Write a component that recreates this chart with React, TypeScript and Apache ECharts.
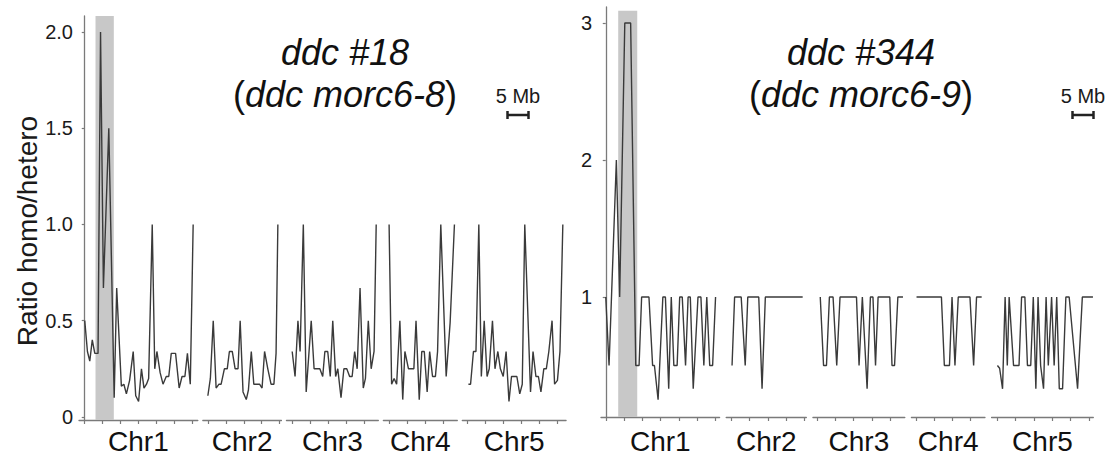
import React, { useEffect, useRef } from 'react';
import * as echarts from 'echarts';

const FONT = "'Liberation Sans', Arial, Helvetica, sans-serif";

const CHROMOSOMES = ['Chr1', 'Chr2', 'Chr3', 'Chr4', 'Chr5'];
const X_TICKS_MB = [0, 5, 10, 15, 20, 25, 30];

// ---- ddc #18 (ddc morc6-8): [position Mb, ratio homo/hetero]
const L_CHR1 = [[0, 0.5], [0.75, 0.34], [1.4, 0.29], [2.1, 0.4], [2.8, 0.33], [3.7, 0.33], [4.4, 2.0], [5.2, 0.67], [6.7, 1.5], [8.2, 0.1], [8.9, 0.67], [10.2, 0.16], [10.9, 0.17], [11.6, 0.12], [12.5, 0.19], [13.5, 0.34], [14.2, 0.11], [15.0, 0.08], [15.8, 0.25], [16.5, 0.15], [17.2, 0.17], [17.8, 0.2], [18.8, 1.0], [19.5, 0.25], [20.1, 0.34], [21.0, 0.23], [21.8, 0.17], [22.7, 0.21], [23.4, 0.21], [24.1, 0.33], [25.3, 0.33], [26.3, 0.15], [27.1, 0.21], [27.9, 0.21], [28.6, 0.33], [29.4, 0.17], [30.2, 1.0]];
const L_CHR2 = [[0, 0.11], [0.7, 0.2], [1.5, 0.5], [2.3, 0.15], [3.1, 0.17], [3.7, 0.17], [4.6, 0.25], [5.4, 0.25], [6.0, 0.34], [6.8, 0.34], [7.6, 0.25], [8.4, 0.25], [9.0, 0.5], [9.8, 0.13], [10.7, 0.09], [11.3, 0.14], [12.1, 0.34], [12.8, 0.17], [13.7, 0.17], [14.4, 0.17], [15.1, 0.15], [15.8, 0.34], [16.7, 0.25], [17.6, 0.17], [18.4, 0.17], [19.0, 0.33], [19.5, 1.0]];
const L_CHR3 = [[0, 0.34], [0.8, 0.21], [1.6, 0.5], [2.2, 0.34], [3.1, 1.0], [3.9, 0.13], [5.3, 0.5], [6.1, 0.25], [7.0, 0.25], [7.7, 0.25], [8.5, 0.21], [9.1, 0.34], [9.9, 0.34], [10.6, 0.21], [11.3, 0.5], [12.1, 0.21], [12.7, 0.25], [13.6, 0.1], [14.4, 0.25], [15.2, 0.25], [16.0, 0.21], [16.7, 0.21], [17.4, 0.34], [18.1, 0.25], [18.9, 0.67], [19.8, 0.15], [20.4, 0.2], [21.2, 0.5], [22.0, 0.25], [22.8, 0.34], [23.4, 1.0]];
const L_CHR4 = [[0, 1.0], [0.7, 0.17], [1.4, 0.2], [2.1, 0.17], [3.0, 0.5], [3.8, 0.09], [4.4, 0.34], [5.4, 0.25], [6.1, 0.25], [6.9, 0.25], [7.5, 0.5], [8.4, 0.09], [9.1, 0.34], [9.8, 0.34], [10.6, 0.13], [11.3, 0.34], [12.1, 0.21], [12.9, 0.21], [13.5, 0.34], [14.4, 1.0], [15.9, 0.21], [17.0, 0.49], [18.2, 1.0]];
const L_CHR5 = [[0.2, 0.17], [0.8, 0.17], [1.6, 0.34], [2.3, 0.34], [3.1, 1.0], [3.8, 0.21], [4.6, 0.5], [5.4, 0.21], [6.0, 0.25], [6.9, 0.5], [7.6, 0.25], [8.4, 0.34], [9.1, 0.25], [9.9, 0.21], [10.7, 0.34], [11.5, 0.08], [12.2, 0.21], [13.0, 0.21], [13.7, 0.21], [14.5, 0.12], [15.2, 0.17], [15.9, 1.0], [17.5, 0.13], [18.2, 0.34], [19.0, 0.21], [19.7, 0.21], [20.4, 0.13], [21.2, 0.25], [21.9, 0.25], [22.6, 0.34], [23.5, 0.5], [24.2, 0.17], [25.0, 0.19], [25.7, 0.34], [26.5, 1.0]];

// ---- ddc #344 (ddc morc6-9)
const R_CHR1 = [[0, 1], [0.9, 0.5], [2.9, 2], [3.8, 1], [5.2, 3], [6.8, 3], [8.2, 0.5], [9.1, 0.5], [9.8, 1], [11.8, 1], [12.8, 0.5], [13.3, 0.5], [14.3, 0.25], [15.6, 1], [16.3, 1], [17.2, 0.33], [17.9, 1], [18.6, 0.5], [19.5, 0.5], [20.2, 1], [20.9, 1], [21.8, 0.5], [22.5, 1], [23.1, 1], [23.9, 0.33], [25.2, 1], [26.0, 1], [26.8, 0.5], [27.6, 1], [28.4, 0.5], [29.2, 0.5], [30.0, 1]];
const R_CHR2 = [[0.2, 0.5], [0.9, 1], [2.7, 1], [3.8, 0.5], [4.5, 1], [7.5, 1], [8.4, 0.33], [9.3, 1], [19.5, 1]];
const R_CHR3 = [[0.9, 1], [1.8, 0.5], [2.6, 0.5], [3.4, 1], [4.4, 1], [5.4, 0.5], [6.3, 1], [10.8, 1], [11.5, 0.5], [12.4, 1], [13.7, 0.33], [14.6, 1], [15.3, 1], [16.0, 0.5], [16.7, 1], [19.9, 1], [20.5, 0.5], [21.2, 0.5], [22.1, 1], [23.5, 1]];
const R_CHR4 = [[0.2, 1], [7.0, 1], [7.8, 0.5], [9.2, 0.5], [9.9, 1], [10.7, 0.5], [11.6, 1], [14.8, 1], [15.8, 0.5], [16.6, 1], [18.0, 1]];
const R_CHR5 = [[0, 0.5], [0.6, 0.48], [1.4, 0.33], [2.1, 1], [2.7, 0.5], [3.2, 1], [4.4, 0.5], [5.9, 0.5], [6.6, 1], [7.5, 1], [8.2, 0.5], [9.1, 0.5], [9.8, 1], [10.5, 0.33], [11.1, 1], [11.8, 0.5], [12.6, 0.33], [13.3, 1], [13.9, 0.5], [14.8, 1], [15.5, 0.5], [16.2, 1], [16.9, 0.33], [17.8, 0.33], [18.7, 1], [19.6, 1], [21.9, 0.33], [23.2, 1], [26.1, 1]];

// axis extents (Mb) of each chromosome facet
const L_X_MIN = [-1.6, -1.4, -1.6, -1.6, -1.5];
const L_X_MAX = [31.5, 20.5, 24.0, 19.0, 27.4];
const R_X_MIN = [-1.3, -1.4, -1.1, -1.2, -1.6];
const R_X_MAX = [31.1, 20.5, 24.0, 18.9, 26.2];

const L_Y_TICKS = [0, 0.5, 1, 1.5, 2];
const R_Y_TICKS = [1, 2, 3];

// highlighted region (Mb, Chr1)
const L_BAND = [3.0, 8.1];
const R_BAND = [3.4, 8.6];

const AXIS_COLOR = '#7a7a7a';
const LINE_COLOR = '#3a3a3a';

type Panel = {
  left: number; top: number; height: number; pxPerMb: number; gap: number;
  xMin: number[]; xMax: number[]; yMin: number; yMax: number; yTicks: number[];
  fmt: (v: number) => string; data: number[][][]; band: number[]; bandTop: number;
  labelMargin: number; nameGap: number;
};

function buildPanel(p: Panel, offset: number, out: any) {
  let x = p.left;
  CHROMOSOMES.forEach((chr, i) => {
    const w = (p.xMax[i] - p.xMin[i]) * p.pxPerMb;
    const idx = offset + i;
    out.grid.push({ left: x, top: p.top, width: w, height: p.height, containLabel: false, outerBoundsMode: 'none' });
    x += w + p.gap;
    out.xAxis.push({
      type: 'value', gridIndex: idx, min: p.xMin[i], max: p.xMax[i],
      axisLine: { show: true, onZero: false, lineStyle: { color: AXIS_COLOR, width: 1.3 } },
      axisTick: { show: true, length: 4, inside: false, customValues: X_TICKS_MB.filter((t) => t <= p.xMax[i]), lineStyle: { color: AXIS_COLOR, width: 1.2 } },
      axisLabel: { show: false },
      splitLine: { show: false },
      name: chr, nameLocation: 'middle', nameGap: p.nameGap,
      nameTextStyle: { fontSize: 28, color: '#111', fontFamily: FONT },
    });
    out.yAxis.push(i === 0 ? {
      type: 'value', gridIndex: idx, min: p.yMin, max: p.yMax,
      axisLine: { show: true, lineStyle: { color: AXIS_COLOR, width: 1.3 } },
      axisTick: { show: true, length: 3, customValues: p.yTicks, lineStyle: { color: AXIS_COLOR, width: 1.2 } },
      axisLabel: { show: true, customValues: p.yTicks, formatter: p.fmt, fontSize: 20, color: '#1a1a1a', fontFamily: FONT, margin: p.labelMargin },
      splitLine: { show: false },
    } : {
      type: 'value', gridIndex: idx, min: p.yMin, max: p.yMax, show: false, splitLine: { show: false },
    });
    if (i === 0) {
      out.series.push({
        type: 'line', xAxisIndex: idx, yAxisIndex: idx, data: [], z: 1, silent: true,
        markArea: {
          silent: true,
          itemStyle: { color: '#c8c8c8' },
          data: [[{ xAxis: p.band[0], yAxis: p.yMin }, { xAxis: p.band[1], yAxis: p.bandTop }]],
        },
      });
    }
    out.series.push({
      type: 'line', xAxisIndex: idx, yAxisIndex: idx, data: p.data[i],
      showSymbol: false, symbol: 'none', silent: true, z: 3,
      lineStyle: { color: LINE_COLOR, width: 1.4 },
    });
  });
}

function scaleBar(cx: number) {
  return [
    { type: 'text', x: cx, y: 96, style: { text: '5 Mb', fontSize: 20, fontFamily: FONT, fill: '#1a1a1a', align: 'center', verticalAlign: 'middle' } },
    { type: 'line', shape: { x1: cx - 10.5, y1: 115, x2: cx + 10.5, y2: 115 }, style: { stroke: '#222', lineWidth: 2.5 } },
    { type: 'line', shape: { x1: cx - 10.5, y1: 111, x2: cx - 10.5, y2: 119 }, style: { stroke: '#222', lineWidth: 2.5 } },
    { type: 'line', shape: { x1: cx + 10.5, y1: 111, x2: cx + 10.5, y2: 119 }, style: { stroke: '#222', lineWidth: 2.5 } },
  ];
}

function title(cx: number, l1: string, l2: string) {
  const base = { fontSize: 36, fontFamily: FONT, fill: '#111' };
  return [
    { type: 'text', x: cx, y: 52.5, style: { ...base, text: l1, fontStyle: 'italic', align: 'center', verticalAlign: 'middle' } },
    {
      type: 'text', x: cx, y: 94.5,
      style: {
        ...base, text: '{n|(}{i|' + l2 + '}{n|)}', align: 'center', verticalAlign: 'middle',
        rich: { n: { ...base, fontStyle: 'normal' }, i: { ...base, fontStyle: 'italic' } },
      },
    },
  ];
}

export default function App() {
  const ref = useRef<HTMLDivElement>(null);
  useEffect(() => {
    if (!ref.current) return;
    const chart = echarts.init(ref.current, undefined, { renderer: 'svg' });
    const out: any = { grid: [], xAxis: [], yAxis: [], series: [] };
    buildPanel({
      left: 79, top: 16, height: 404, pxPerMb: 3.59, gap: 5,
      xMin: L_X_MIN, xMax: L_X_MAX, yMin: -0.016, yMax: 2.083, yTicks: L_Y_TICKS,
      fmt: (v: number) => (v === 0 ? '0' : v.toFixed(1)),
      data: [L_CHR1, L_CHR2, L_CHR3, L_CHR4, L_CHR5], band: L_BAND, bandTop: 2.083,
      labelMargin: 6, nameGap: 7,
    }, 0, out);
    buildPanel({
      left: 601, top: 7, height: 410, pxPerMb: 3.66, gap: 6.6,
      xMin: R_X_MIN, xMax: R_X_MAX, yMin: 0.124, yMax: 3.117, yTicks: R_Y_TICKS,
      fmt: (v: number) => String(v),
      data: [R_CHR1, R_CHR2, R_CHR3, R_CHR4, R_CHR5], band: R_BAND, bandTop: 3.09,
      labelMargin: 9, nameGap: 10,
    }, 5, out);
    chart.setOption({
      animation: false,
      backgroundColor: '#ffffff',
      textStyle: { fontFamily: FONT },
      ...out,
      graphic: [
        ...title(345, 'ddc #18', 'ddc morc6-8'),
        ...title(861, 'ddc #344', 'ddc morc6-9'),
        ...scaleBar(518),
        ...scaleBar(1083),
        {
          type: 'text', x: 27, y: 231, rotation: Math.PI / 2,
          style: { text: 'Ratio homo/hetero', fontSize: 28, fontFamily: FONT, fill: '#1a1a1a', align: 'center', verticalAlign: 'middle' },
        },
      ],
    });
    return () => chart.dispose();
  }, []);
  return <div ref={ref} style={{ position: 'absolute', left: 0, top: 0, width: 1108, height: 456 }} />;
}
